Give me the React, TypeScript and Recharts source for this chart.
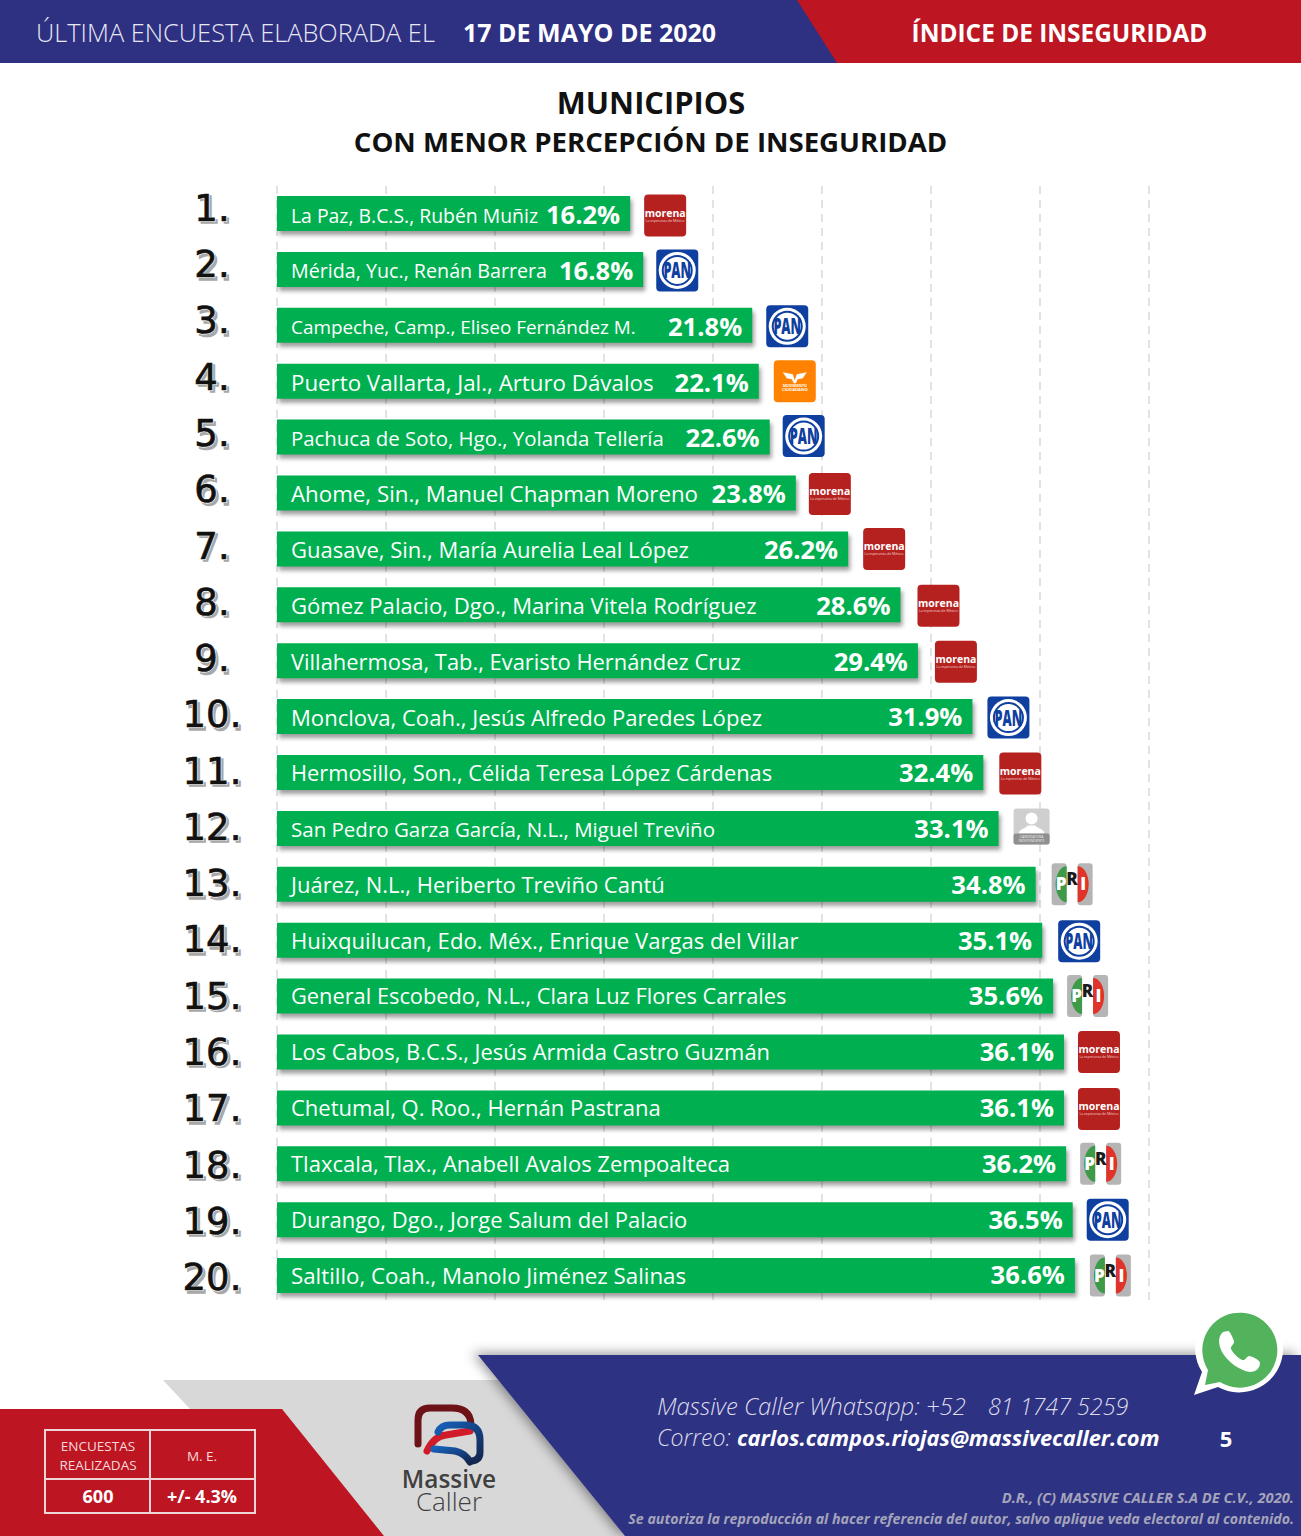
import React from 'react'
import { BarChart, Bar, XAxis, YAxis, CartesianGrid, LabelList, Rectangle } from 'recharts'

const FONT = '"Open Sans", sans-serif'
const NAVY = '#2e3082'
const RED = '#bd1522'

const ranks = ['1.', '2.', '3.', '4.', '5.', '6.', '7.', '8.', '9.', '10.', '11.', '12.', '13.', '14.', '15.', '16.', '17.', '18.', '19.', '20.']
const names = [
    'La Paz, B.C.S., Rubén Muñiz',
    'Mérida, Yuc., Renán Barrera',
    'Campeche, Camp., Eliseo Fernández M.',
    'Puerto Vallarta, Jal., Arturo Dávalos',
    'Pachuca de Soto, Hgo., Yolanda Tellería',
    'Ahome, Sin., Manuel Chapman Moreno',
    'Guasave, Sin., María Aurelia Leal López',
    'Gómez Palacio, Dgo., Marina Vitela Rodríguez',
    'Villahermosa, Tab., Evaristo Hernández Cruz',
    'Monclova, Coah., Jesús Alfredo Paredes López',
    'Hermosillo, Son., Célida Teresa López Cárdenas',
    'San Pedro Garza García, N.L., Miguel Treviño',
    'Juárez, N.L., Heriberto Treviño Cantú',
    'Huixquilucan, Edo. Méx., Enrique Vargas del Villar',
    'General Escobedo, N.L., Clara Luz Flores Carrales',
    'Los Cabos, B.C.S., Jesús Armida Castro Guzmán',
    'Chetumal, Q. Roo., Hernán Pastrana',
    'Tlaxcala, Tlax., Anabell Avalos Zempoalteca',
    'Durango, Dgo., Jorge Salum del Palacio',
    'Saltillo, Coah., Manolo Jiménez Salinas',
]
const values = [16.2, 16.8, 21.8, 22.1, 22.6, 23.8, 26.2, 28.6, 29.4, 31.9, 32.4, 33.1, 34.8, 35.1, 35.6, 36.1, 36.1, 36.2, 36.5, 36.6]
const parties = ['morena', 'pan', 'pan', 'mc', 'pan', 'morena', 'morena', 'morena', 'morena', 'pan', 'morena', 'ind', 'pri', 'pan', 'pri', 'morena', 'morena', 'pri', 'pan', 'pri']
const ticks = [0, 5, 10, 15, 20, 25, 30, 35, 40]

const data = ranks.map((rank, i) => ({ rank, name: names[i], value: values[i], party: parties[i] }))

// label type sizes and logo nudges per row, the source slide was laid out by hand
const nameSizes = [19.4, 19.7, 18.9, 22.3, 20.4, 22.3, 22, 22.1, 21.9, 22.1, 21.8, 20.5, 22, 22.1, 21.8, 21.9, 22, 22, 22, 22.3]
const logoDx = [0, -1, 0, 1, -1, -1, 1, 3, 3, 1, 2, 1, 2, 2, 0, 0, 0, 0, 0, 1]
const logoDy = [2, 1, 1, 0, -1, 1, 0, 1, 1, 1, 1, 0, 0, 1, 0, 0, 1, 0, 0, 0]

// row text drifts a little below the bar centre towards the top of the list
const textDy = (i: number) => 2 + (19 - i) * 0.1

function Morena() {
    return (
        <g>
            <rect width={42} height={42} rx={4} fill="#b5211e" />
            <text x={21} y={22} textAnchor="middle" fontFamily={FONT} fontWeight={700} fontSize={10.5} fill="#fff">morena</text>
            <text x={21} y={27} textAnchor="middle" fontFamily={FONT} fontSize={3.5} fill="#f3d0d0">La esperanza de México</text>
        </g>
    )
}

function Pan() {
    return (
        <g>
            <rect width={42} height={42} rx={4} fill="#0f3f9f" />
            <circle cx={21} cy={21} r={18.5} fill="#fff" />
            <circle cx={21} cy={21} r={15.5} fill="#0f3f9f" />
            <circle cx={21} cy={21} r={13.5} fill="#fff" />
            <text x={0} y={0} transform="translate(21 29) scale(0.55 1)" textAnchor="middle" fontFamily={FONT} fontWeight={800} fontSize={23} fill="#0f3f9f">PAN</text>
        </g>
    )
}

function Pri() {
    return (
        <g>
            <rect width={15} height={42} rx={3} fill="#b5b5b5" />
            <rect x={26} width={15} height={42} rx={3} fill="#b5b5b5" />
            <path d="M15 3 A11 18 0 0 0 15 39 Z" fill="#3c9a48" />
            <path d="M26 3 A11 18 0 0 1 26 39 Z" fill="#e0342a" />
            <text x={9.5} y={27} textAnchor="middle" fontFamily={FONT} fontWeight={800} fontSize={17} fill="#fff">P</text>
            <text x={20.5} y={22} textAnchor="middle" fontFamily={FONT} fontWeight={800} fontSize={17} fill="#1a1a1a">R</text>
            <text x={31.5} y={27} textAnchor="middle" fontFamily={FONT} fontWeight={800} fontSize={17} fill="#fff">I</text>
        </g>
    )
}

function Mc() {
    return (
        <g>
            <rect width={42} height={42} rx={4} fill="#ff8300" />
            <path d="M9 12 L19 14 L21 20 L23 14 L33 12 L29 18 L24 19 L22 23 L20 23 L18 19 L13 18 Z" fill="#fff" />
            <text x={21} y={27} textAnchor="middle" fontFamily={FONT} fontWeight={700} fontSize={3.6} fill="#fff">MOVIMIENTO</text>
            <text x={21} y={31} textAnchor="middle" fontFamily={FONT} fontWeight={700} fontSize={4.2} fill="#fff">CIUDADANO</text>
        </g>
    )
}

function Independent() {
    return (
        <g>
            <rect width={36} height={36} rx={3} y={1} fill="#cfcfcf" />
            <circle cx={18} cy={11} r={6} fill="#fff" />
            <path d="M5 26 C6 21 13 21 14 18 L22 18 C23 21 30 21 31 26 Z" fill="#fff" />
            <rect y={26} width={36} height={11} rx={2} fill="#8f8f8f" />
            <text x={18} y={31} textAnchor="middle" fontFamily={FONT} fontSize={3.4} fill="#eee">CANDIDATURA</text>
            <text x={18} y={35} textAnchor="middle" fontFamily={FONT} fontSize={3.4} fill="#eee">INDEPENDIENTE</text>
        </g>
    )
}

const logos: Record<string, () => React.ReactElement> = { morena: Morena, pan: Pan, pri: Pri, mc: Mc, ind: Independent }

function BarShape(props: any) {
    return <Rectangle {...props} fill="#00b050" style={{ filter: 'drop-shadow(2px 4px 2px rgba(0,0,0,0.38))' }} />
}

function NameLabel({ x, y, height, value, index }: any) {
    return (
        <text x={x + 14} y={y + height / 2 + textDy(index)} dominantBaseline="middle" fontFamily={FONT} fontSize={nameSizes[index]} fill="#fff">{value}</text>
    )
}

function ValueLabel({ x, y, width, height, value, index }: any) {
    return (
        <text x={x + width - 10} y={y + height / 2 + textDy(index)} textAnchor="end" dominantBaseline="middle" fontFamily={FONT} fontWeight={700} fontSize={25.6} fill="#fff">{value.toFixed(1)}%</text>
    )
}

function LogoLabel({ x, y, width, height, index }: any) {
    const Logo = logos[parties[index]]
    return (
        <g transform={`translate(${x + width + 14 + logoDx[index]} ${y + height / 2 - 21 + logoDy[index]})`}>
            <Logo />
        </g>
    )
}

function RankTick({ y, payload, index }: any) {
    // the numbers sit on a slightly wider pitch than the bars
    const cy = y + (index - 19) * 0.37 + 3.5
    return (
        <g fontFamily='"DejaVu Sans", sans-serif' fontSize={37} textAnchor="middle">
            <text x={214.5} y={cy + 2.5} dominantBaseline="middle" fill="#a8a8a8" stroke="#a8a8a8" strokeWidth={1.5}>{payload.value}</text>
            <text x={212} y={cy} dominantBaseline="middle" fill="none" stroke="#fff" strokeWidth={2}>{payload.value}</text>
            <text x={212} y={cy} dominantBaseline="middle" fill="#111" stroke="#111" strokeWidth={0.7}>{payload.value}</text>
        </g>
    )
}

function Backdrop() {
    return (
        <svg width={1301} height={1536} style={{ position: 'absolute', left: 0, top: 0 }} fontFamily={FONT}>
            <defs>
                <filter id="soft" x="-10%" y="-20%" width="120%" height="140%">
                    <feDropShadow dx={-6} dy={-2} stdDeviation={6} floodColor="#000" floodOpacity={0.4} />
                </filter>
                <linearGradient id="ringB" x1="0" y1="0" x2="1" y2="1">
                    <stop offset="0" stopColor="#1660b8" />
                    <stop offset="1" stopColor="#14264f" />
                </linearGradient>
            </defs>

            <rect width={838} height={63} fill={NAVY} />
            <polygon points="797,0 1301,0 1301,63 837,63" fill={RED} />
            <text x={36} y={42} fontSize={25.4} fontWeight={300} fill="#e8e8f2">ÚLTIMA ENCUESTA ELABORADA EL</text>
            <text x={463} y={42} fontSize={25} fontWeight={700} fill="#fff">17 DE MAYO DE 2020</text>
            <text x={1059.5} y={42} textAnchor="middle" fontSize={24.4} fontWeight={700} fill="#fff">ÍNDICE DE INSEGURIDAD</text>

            <text x={651} y={114} textAnchor="middle" fontSize={30.8} fontWeight={700} fill="#111">MUNICIPIOS</text>
            <text x={650.5} y={152} textAnchor="middle" fontSize={27.6} fontWeight={700} fill="#111">CON MENOR PERCEPCIÓN DE INSEGURIDAD</text>

            <polygon points="163,1380 520,1380 640,1536 300,1536 190,1409" fill="#d8d8d8" />
            <polygon points="0,1409 282,1409 384,1536 0,1536" fill={RED} />
            <polygon points="478,1355 1301,1355 1301,1536 625,1536" fill={NAVY} filter="url(#soft)" />

            <g fill="none" stroke="#f0d5d8" strokeWidth={2}>
                <rect x={45} y={1430} width={210} height={83} />
                <line x1={150} y1={1430} x2={150} y2={1513} />
                <line x1={45} y1={1479} x2={255} y2={1479} />
            </g>
            <g textAnchor="middle" fill="#f4d9dc">
                <text x={98} y={1451} fontSize={13.5}>ENCUESTAS</text>
                <text x={98} y={1470} fontSize={13.5}>REALIZADAS</text>
                <text x={202} y={1461} fontSize={13.5}>M. E.</text>
                <text x={98} y={1503} fontSize={18} fontWeight={700} fill="#fff">600</text>
                <text x={202} y={1503} fontSize={18} fontWeight={700} fill="#fff">+/- 4.3%</text>
            </g>

            <g fill="none" strokeWidth={7} strokeLinecap="round">
                <path d="M418 1444 L418 1420 Q418 1408 430 1408 L452 1408 Q470 1408 471 1424" stroke="#6d1216" />
                <path d="M427 1451 Q434 1436 446 1435 L470 1431" stroke="#d01c2a" />
                <path d="M438 1432 Q441 1425 450 1425 L465 1425 Q480 1425 480 1440 L480 1452 Q480 1460 472 1461" stroke="url(#ringB)" />
                <path d="M434 1449 L455 1451 Q465 1453 470 1462" stroke="url(#ringB)" />
            </g>
            <text x={449} y={1488} textAnchor="middle" fontSize={24.4} fontWeight={600} fill="#404040">Massive</text>
            <text x={449} y={1511} textAnchor="middle" fontSize={26} fontWeight={300} fill="#404040">Caller</text>

            <text x={657} y={1415} fontSize={23.9} fontStyle="italic" fontWeight={300} fill="#dcdcec">Massive Caller Whatsapp: +52</text>
            <text x={988} y={1415} fontSize={23.3} fontStyle="italic" fontWeight={300} fill="#dcdcec">81 1747 5259</text>
            <text x={657} y={1446} fontSize={23} fontStyle="italic" fontWeight={300} fill="#dcdcec">Correo:</text>
            <text x={737} y={1446} fontSize={21.9} fontStyle="italic" fontWeight={700} fill="#fff">carlos.campos.riojas@massivecaller.com</text>
            <text x={1226} y={1447} textAnchor="middle" fontSize={22} fontWeight={700} fill="#fff">5</text>
            <text x={1294} y={1503} textAnchor="end" fontSize={14.7} fontStyle="italic" fontWeight={700} fill="#a4a4ba">D.R., (C) MASSIVE CALLER S.A DE C.V., 2020.</text>
            <text x={1294} y={1524} textAnchor="end" fontSize={14.2} fontStyle="italic" fontWeight={700} fill="#a4a4ba">Se autoriza la reproducción al hacer referencia del autor, salvo aplique veda electoral al contenido.</text>

            <g>
                <path d="M1194 1395 L1202 1372 A44 44 0 1 1 1218 1387 Z" fill="#fff" />
                <path d="M1205 1385 L1208 1370 A37.5 37.5 0 1 1 1220 1382 Z" fill="#52b35c" />
                <path d="M1223 1332 C1218 1336 1218 1344 1222 1352 C1228 1362 1240 1371 1250 1372 C1256 1372 1260 1368 1260 1363 C1260 1360 1252 1356 1249 1356 C1246 1357 1245 1361 1242 1360 C1238 1358 1233 1353 1231 1349 C1230 1346 1235 1344 1234 1341 C1233 1338 1230 1331 1228 1331 Z" fill="#fff" />
            </g>
        </svg>
    )
}

export default function App() {
    return (
        <div style={{ position: 'absolute', left: 0, top: 0, width: 1301, height: 1536, background: '#fff', overflow: 'hidden' }}>
            <Backdrop />
            <div style={{ position: 'absolute', left: 0, top: 0 }}>
                <BarChart
                    width={1301}
                    height={1536}
                    data={data}
                    layout="vertical"
                    barSize={35}
                    margin={{ top: 186, right: 152, bottom: 232, left: 177 }}
                >
                    <CartesianGrid horizontal={false} stroke="#d9d9d9" strokeDasharray="8 6" strokeWidth={1.5} />
                    <XAxis type="number" domain={[0, 40]} ticks={ticks} hide />
                    <YAxis type="category" dataKey="rank" width={100} axisLine={false} tickLine={false} interval={0} tick={<RankTick />} />
                    <Bar dataKey="value" shape={<BarShape />} isAnimationActive={false}>
                        <LabelList dataKey="name" content={<NameLabel />} />
                        <LabelList dataKey="value" content={<ValueLabel />} />
                        <LabelList dataKey="value" content={<LogoLabel />} />
                    </Bar>
                </BarChart>
            </div>
        </div>
    )
}
